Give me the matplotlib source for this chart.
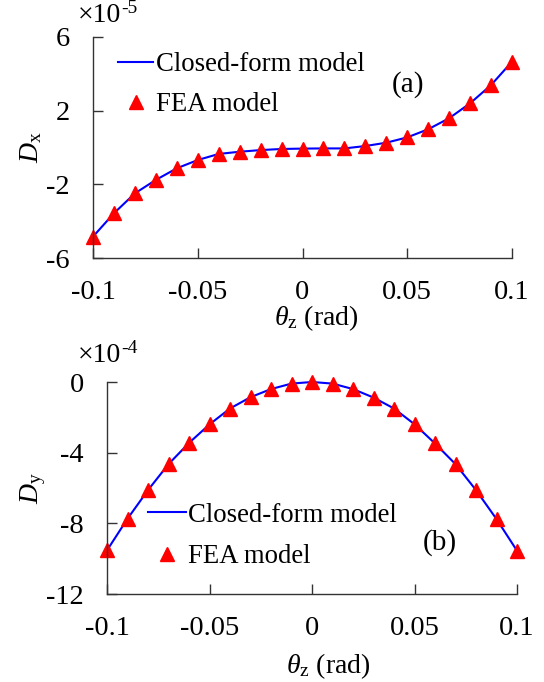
import matplotlib
matplotlib.use('Agg')
import matplotlib.pyplot as plt

plt.rcParams['font.family'] = ['Liberation Serif', 'DejaVu Serif']
plt.rcParams['mathtext.fontset'] = 'custom'
plt.rcParams['mathtext.rm'] = 'Liberation Serif'
plt.rcParams['mathtext.it'] = 'Liberation Serif:italic'
plt.rcParams['axes.unicode_minus'] = False

# rotation angle (rad)
theta = [-0.1, -0.09, -0.08, -0.07, -0.06, -0.05, -0.04, -0.03, -0.02, -0.01, 0.0,
         0.01, 0.02, 0.03, 0.04, 0.05, 0.06, 0.07, 0.08, 0.09, 0.1]

# Dx (x1e-5)
dx_closed = [-4.84, -3.57, -2.49, -1.76, -1.13, -0.68, -0.35, -0.23, -0.14, -0.08, -0.06,
             -0.05, -0.05, 0.08, 0.26, 0.55, 0.99, 1.59, 2.40, 3.39, 4.66]
dx_fea = [-4.84, -3.57, -2.49, -1.76, -1.13, -0.68, -0.35, -0.23, -0.14, -0.08, -0.06,
          -0.05, -0.05, 0.08, 0.26, 0.55, 0.99, 1.59, 2.40, 3.39, 4.66]

# Dy (x1e-4)
dy_closed = [-9.53, -7.74, -6.12, -4.65, -3.45, -2.40, -1.50, -0.86, -0.40, -0.09, 0.0,
             -0.09, -0.40, -0.88, -1.50, -2.39, -3.48, -4.65, -6.12, -7.76, -9.55]
dy_fea = [-9.53, -7.74, -6.12, -4.65, -3.45, -2.40, -1.50, -0.86, -0.40, -0.09, 0.0,
          -0.09, -0.40, -0.88, -1.50, -2.39, -3.48, -4.65, -6.12, -7.76, -9.55]

xticks = [-0.1, -0.05, 0, 0.05, 0.1]
xticklabels = ['-0.1', '-0.05', '0', '0.05', '0.1']
dx_ticks = [-6, -2, 2, 6]
dy_ticks = [-12, -8, -4, 0]

W, H = 544, 682
TICK_FS = 20.5
LABEL_FS = 20
LEG_FS = 19.3
fig = plt.figure(figsize=(W / 100, H / 100), dpi=100)


def box(l, t, r, b):
    return [l / W, 1 - b / H, (r - l) / W, (b - t) / H]


ax1 = fig.add_axes(box(93, 37, 512, 258))
ax2 = fig.add_axes(box(107, 382, 517, 594))

for ax in (ax1, ax2):
    for s in ('top', 'right'):
        ax.spines[s].set_visible(False)
    for s in ('left', 'bottom'):
        ax.spines[s].set_color('#333333')
        ax.spines[s].set_linewidth(1.0)
    ax.tick_params(direction='in', length=7, width=1.0, color='#333333', labelsize=TICK_FS)
    ax.tick_params(axis='x', pad=15.5)
    ax.tick_params(axis='y', pad=16.5)
    ax.set_xlim(-0.1, 0.1)
    ax.set_xticks(xticks)
    ax.set_xticklabels(xticklabels)

# (a) Dx
ax1.plot(theta, dx_closed, color='#0000ff', lw=1.5, label='Closed-form model', clip_on=False)
ax1.plot(theta, dx_fea, ls='none', marker='^', ms=10, color='#ff0000', label='FEA model', clip_on=False)
ax1.set_ylim(-6, 6)
ax1.set_yticks(dx_ticks)
ax1.set_yticklabels([str(v) for v in dx_ticks])
ax1.set_ylabel(r'$D_{\mathrm{x}}$', fontsize=LABEL_FS)
ax1.yaxis.set_label_coords(-0.117, 0.5)
ax1.set_xlabel(r'$\theta_{\mathrm{z}}$ (rad)', fontsize=LABEL_FS)
ax1.xaxis.set_label_coords(0.532, -0.205)
ax1.legend(loc='upper left', bbox_to_anchor=(0.06, 0.93), frameon=False, fontsize=LEG_FS,
           handlelength=1.3, handletextpad=0.1, labelspacing=0.55, borderpad=0, borderaxespad=0)
ax1.text(408 / W, 1 - 85 / H, '(a)', transform=fig.transFigure, fontsize=21, ha='center', va='center')

# (b) Dy
ax2.plot(theta, dy_closed, color='#0000ff', lw=1.5, label='Closed-form model', clip_on=False)
ax2.plot(theta, dy_fea, ls='none', marker='^', ms=10, color='#ff0000', label='FEA model', clip_on=False)
ax2.set_ylim(-12, 0)
ax2.set_yticks(dy_ticks)
ax2.set_yticklabels([str(v) for v in dy_ticks])
ax2.set_ylabel(r'$D_{\mathrm{y}}$', fontsize=LABEL_FS)
ax2.yaxis.set_label_coords(-0.144, 0.5)
ax2.set_xlabel(r'$\theta_{\mathrm{z}}$ (rad)', fontsize=LABEL_FS)
ax2.xaxis.set_label_coords(0.539, -0.27)
ax2.legend(loc='upper left', bbox_to_anchor=(0.1, 0.43), frameon=False, fontsize=LEG_FS,
           handlelength=1.4, handletextpad=0.1, labelspacing=0.62, borderpad=0, borderaxespad=0)
ax2.text(440 / W, 1 - 543 / H, '(b)', transform=fig.transFigure, fontsize=21, ha='center', va='center')

# scale factors
for (px, py, exp) in ((78, 22, '-5'), (78, 362, '-4')):
    t = fig.text(px / W, 1 - py / H, '\u00d710', fontsize=LABEL_FS, va='baseline', ha='left')
    fig.canvas.draw()
    ax1.annotate(exp, xy=(1.0, 0.45), xycoords=t, fontsize=14, ha='left', va='bottom',
                 annotation_clip=False)

fig.savefig('out.png', dpi=100)
